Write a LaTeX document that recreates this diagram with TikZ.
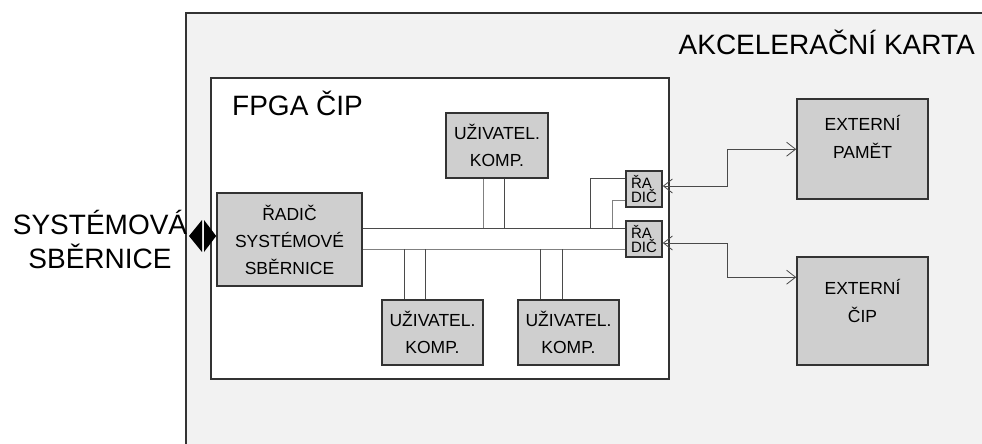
\documentclass[tikz,border=0pt]{standalone}
\usepackage{fontspec}
\setmainfont{Liberation Sans}
\usetikzlibrary{arrows.meta,calc}
\definecolor{cardbg}{HTML}{F2F2F2}
\definecolor{boxbg}{HTML}{CFCFCF}
\definecolor{edge}{HTML}{333333}
\definecolor{wdark}{HTML}{4A4A4A}
\definecolor{wgray}{HTML}{808080}
\tikzset{
  blk/.style={draw=edge,line width=1.6pt,fill=boxbg,inner sep=0pt,align=center,font=\fontsize{17.5}{27}\selectfont},
  smallblk/.style={blk,minimum width=36pt,minimum height=36pt,align=left,font=\fontsize{15}{14.5}\selectfont},
  bigtxt/.style={inner sep=0pt,font=\fontsize{28}{34}\selectfont},
  wire/.style={draw=wdark,line width=0.9pt},
  wireg/.style={draw=wgray,line width=0.9pt},
  link/.style={draw=wdark,line width=0.8pt,{Straight Barb[length=9pt,width=14pt]}-{Straight Barb[length=9pt,width=14pt]}}
}
\begin{document}
\begin{tikzpicture}[x=1pt,y=-1pt]
\useasboundingbox (0,0) rectangle (982,444);
\clip (0,0) rectangle (982,444);
% card
\fill[white] (0,0) rectangle (982,444);
\draw[edge,line width=1.4pt,fill=cardbg] (186,13) rectangle (1000,460);
\node[bigtxt,anchor=east] (card) at (975,42) {AKCELERAČNÍ KARTA};
% FPGA
\draw[edge,line width=1.8pt,fill=white] (211,78) rectangle (669,379);
\node[bigtxt,anchor=west] (fpga) at (232,103) {FPGA ČIP};
% system bus label
\node[bigtxt,align=center] (sys) at (100,239) {SYSTÉMOVÁ\\SBĚRNICE};
% blocks
\node[blk,minimum width=145pt,minimum height=93pt] (rs) at (289.5,239.5) {ŘADIČ\\SYSTÉMOVÉ\\SBĚRNICE};
\node[blk,minimum width=102pt,minimum height=65pt] (u1) at (497,145.5) {UŽIVATEL.\\KOMP.};
\node[blk,minimum width=101pt,minimum height=65pt] (u2) at (432.5,332.5) {UŽIVATEL.\\KOMP.};
\node[blk,minimum width=101pt,minimum height=65pt] (u3) at (568.5,332.5) {UŽIVATEL.\\KOMP.};
\node[smallblk] (ra1) at (644,189) {ŘA\\DIČ};
\node[smallblk] (ra2) at (644,239) {ŘA\\DIČ};
\node[blk,minimum width=131pt,minimum height=100pt] (e1) at (862.5,149) {};
\node[align=center,inner sep=0pt,font=\fontsize{17.5}{28}\selectfont] (e1t) at (862.5,137) {EXTERNÍ\\PAMĚT};
\node[blk,minimum width=131pt,minimum height=108pt] (e2) at (862.5,311) {};
\node[align=center,inner sep=0pt,font=\fontsize{17.5}{28}\selectfont] (e2t) at (862.5,301) {EXTERNÍ\\ČIP};
% bus
\coordinate (bt) at (0,228);
\coordinate (bb) at (0,249);
\draw[wire] (rs.east |- bt) -- (ra2.west |- bt);
\draw[wireg] (rs.east |- bb) -- (ra2.west |- bb);
% user component taps
\draw[wireg] (u1.south -| 483,0) -- (483,228);
\draw[wire] (u1.south -| 504,0) -- (504,228);
\draw[wire] (404,249) -- (u2.north -| 404,0);
\draw[wire] (425,249) -- (u2.north -| 425,0);
\draw[wire] (540,249) -- (u3.north -| 540,0);
\draw[wire] (562,249) -- (u3.north -| 562,0);
% taps to upper controller
\draw[wire] (590,228) |- ($(ra1.west)+(0,-11)$);
\draw[wireg] (612,228) |- ($(ra1.west)+(0,11)$);
% external links
\draw[link] ($(ra1.east)+(0,-3)$) -- (727,186) |- ($(e1.north west)+(0,51)$);
\draw[link] ($(ra2.east)+(0,4)$) -- (727,243) |- ($(e2.north west)+(0,21)$);
% system bus double arrow
\fill[black] (189,236) -- (202,220) -- (202,252) -- cycle;
\fill[black] (rs.west |- 0,236) -- (204,220) -- (204,252) -- cycle;
\end{tikzpicture}
\end{document}
